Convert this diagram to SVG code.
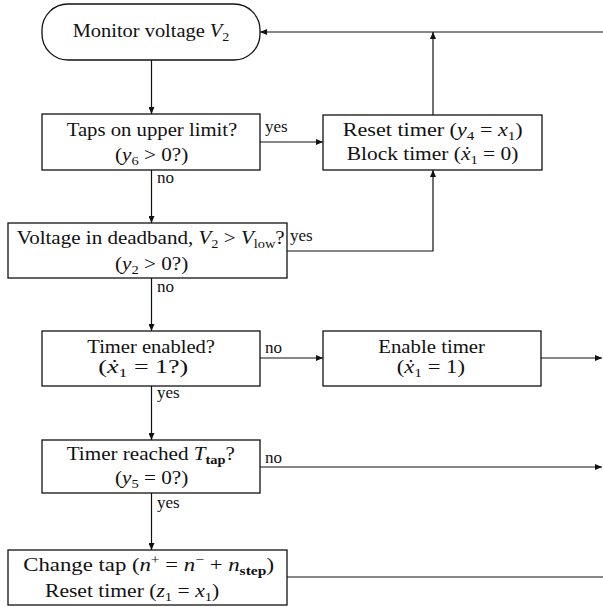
<svg xmlns="http://www.w3.org/2000/svg" width="603" height="607" viewBox="0 0 603 607">
<style>
.box{fill:#fff;stroke:#111;stroke-width:1.3}
.ln{fill:none;stroke:#111;stroke-width:1.2}
text{font-family:"Liberation Serif","DejaVu Serif",serif;font-size:19px;fill:#111}
text.lbl{font-size:17px}
.i{font-style:italic}
.s{font-size:13px}
.b{font-weight:bold}
</style>
<defs>
<marker id="ah" markerUnits="userSpaceOnUse" markerWidth="8" markerHeight="6" refX="7" refY="3" orient="auto">
<path d="M0,0 L7,3 L0,6 z" fill="#111"/>
</marker>
</defs>
<g id="connectors">
<path class="ln" d="M151.5,60 V114" marker-end="url(#ah)"/>
<path class="ln" d="M260,142 H323" marker-end="url(#ah)"/>
<path class="ln" d="M433,115 V32" marker-end="url(#ah)"/>
<path class="ln" d="M603,32 H260" marker-end="url(#ah)"/>
<path class="ln" d="M151.5,170 V223" marker-end="url(#ah)"/>
<path class="ln" d="M287,251 H433 V170" marker-end="url(#ah)"/>
<path class="ln" d="M151.5,278 V331" marker-end="url(#ah)"/>
<path class="ln" d="M260,358 H323" marker-end="url(#ah)"/>
<path class="ln" d="M541,358 H602" marker-end="url(#ah)"/>
<path class="ln" d="M151.5,386 V440" marker-end="url(#ah)"/>
<path class="ln" d="M260,467 H602" marker-end="url(#ah)"/>
<path class="ln" d="M151.5,493 V550" marker-end="url(#ah)"/>
<path class="ln" d="M287,577 H603"/>
<text class="lbl" x="265" y="132">yes</text>
<text class="lbl" x="157" y="183">no</text>
<text class="lbl" x="290" y="241">yes</text>
<text class="lbl" x="157" y="292">no</text>
<text class="lbl" x="265" y="353">no</text>
<text class="lbl" x="157" y="398">yes</text>
<text class="lbl" x="265" y="463">no</text>
<text class="lbl" x="157" y="508">yes</text>
</g>
<g id="monitor">
<rect class="box" x="42" y="4" width="218" height="56" rx="26" ry="26"/>
<text x="72.7" y="37" textLength="156.6" lengthAdjust="spacingAndGlyphs">Monitor voltage <tspan class="i">V</tspan><tspan class="s" dy="4">2</tspan></text>
</g>
<g id="taps">
<rect class="box" x="42" y="114" width="218" height="56"/>
<text x="66.7" y="136" textLength="170.6" lengthAdjust="spacingAndGlyphs">Taps on upper limit?</text>
<text x="115" y="161" textLength="73.3" lengthAdjust="spacingAndGlyphs">(<tspan class="i">y</tspan><tspan class="s" dy="4">6</tspan><tspan dy="-4"> &gt; 0?)</tspan></text>
</g>
<g id="reset">
<rect class="box" x="323" y="115" width="219" height="55"/>
<text x="342.7" y="136" textLength="180" lengthAdjust="spacingAndGlyphs">Reset timer (<tspan class="i">y</tspan><tspan class="s" dy="4">4</tspan><tspan dy="-4"> = </tspan><tspan class="i">x</tspan><tspan class="s" dy="4">1</tspan><tspan dy="-4">)</tspan></text>
<text x="346.7" y="160" textLength="171.7" lengthAdjust="spacingAndGlyphs">Block timer (<tspan class="i">ẋ</tspan><tspan class="s" dy="4">1</tspan><tspan dy="-4"> = 0)</tspan></text>
</g>
<g id="deadband">
<rect class="box" x="8" y="223" width="279" height="55"/>
<text x="16.7" y="244" textLength="268" lengthAdjust="spacingAndGlyphs">Voltage in deadband, <tspan class="i">V</tspan><tspan class="s" dy="4">2</tspan><tspan dy="-4"> &gt; </tspan><tspan class="i">V</tspan><tspan class="s" dy="4">low</tspan><tspan dy="-4">?</tspan></text>
<text x="115" y="270" textLength="73.3" lengthAdjust="spacingAndGlyphs">(<tspan class="i">y</tspan><tspan class="s" dy="4">2</tspan><tspan dy="-4"> &gt; 0?)</tspan></text>
</g>
<g id="enabled">
<rect class="box" x="42" y="331" width="218" height="55"/>
<text x="87.3" y="353" textLength="127.7" lengthAdjust="spacingAndGlyphs">Timer enabled?</text>
<text x="98.3" y="373" textLength="90" lengthAdjust="spacingAndGlyphs">(<tspan class="i">ẋ</tspan><tspan class="s" dy="4">1</tspan><tspan dy="-4"> = 1?)</tspan></text>
</g>
<g id="enable">
<rect class="box" x="323" y="331" width="218" height="55"/>
<text x="378.3" y="353" textLength="106.7" lengthAdjust="spacingAndGlyphs">Enable timer</text>
<text x="396.7" y="373" textLength="68.3" lengthAdjust="spacingAndGlyphs">(<tspan class="i">ẋ</tspan><tspan class="s" dy="4">1</tspan><tspan dy="-4"> = 1)</tspan></text>
</g>
<g id="reached">
<rect class="box" x="42" y="440" width="218" height="53"/>
<text x="66.7" y="460" textLength="168.3" lengthAdjust="spacingAndGlyphs">Timer reached <tspan class="i">T</tspan><tspan class="s b" dy="4">tap</tspan><tspan dy="-4">?</tspan></text>
<text x="115" y="484" textLength="73.3" lengthAdjust="spacingAndGlyphs">(<tspan class="i">y</tspan><tspan class="s" dy="4">5</tspan><tspan dy="-4"> = 0?)</tspan></text>
</g>
<g id="change">
<rect class="box" x="8" y="550" width="279" height="55"/>
<text x="23.3" y="571" textLength="250.7" lengthAdjust="spacingAndGlyphs">Change tap (<tspan class="i">n</tspan><tspan class="s" dy="-7">+</tspan><tspan dy="7"> = </tspan><tspan class="i">n</tspan><tspan class="s" dy="-7">−</tspan><tspan dy="7"> + </tspan><tspan class="i">n</tspan><tspan class="s b" dy="4">step</tspan><tspan dy="-4">)</tspan></text>
<text x="45" y="597" textLength="174.3" lengthAdjust="spacingAndGlyphs">Reset timer (<tspan class="i">z</tspan><tspan class="s" dy="4">1</tspan><tspan dy="-4"> = </tspan><tspan class="i">x</tspan><tspan class="s" dy="4">1</tspan><tspan dy="-4">)</tspan></text>
</g>
</svg>
